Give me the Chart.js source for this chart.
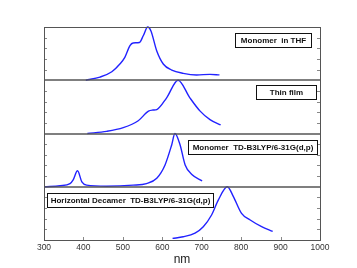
<!DOCTYPE html>
<html>
<head>
<meta charset="utf-8">
<script src="https://cdn.jsdelivr.net/npm/chart.js@4.4.0/dist/chart.umd.min.js"></script>
<style>
  html, body { margin: 0; padding: 0; background: #fff; }
  #wrap { width: 357px; height: 268px; }
</style>
</head>
<body>
<div id="wrap"><canvas id="spectra"></canvas></div>
<script>
// x axis (nm) and the unlabelled y tick marks of each panel
const xTicks = [300, 400, 500, 600, 700, 800, 900, 1000];
const yTicks = [0.2, 0.4, 0.6, 0.8];

const panelLabels = [
    'Monomer  in THF',
    'Thin film',
    'Monomer  TD-B3LYP/6-31G(d,p)',
    'Horizontal Decamer  TD-B3LYP/6-31G(d,p)'
];

// panel 1 - monomer in THF
const thfNm  = [406, 442, 472, 493, 505, 518, 526, 542, 552, 563, 571, 586, 603, 624, 653, 687, 721, 745];
const thfAbs = [0.0, 0.06, 0.16, 0.31, 0.43, 0.65, 0.70, 0.71, 0.84, 1.0, 0.93, 0.55, 0.30, 0.19, 0.13, 0.10, 0.11, 0.10];

// panel 2 - thin film
const filmNm  = [410, 459, 501, 539, 565, 576, 586, 611, 640, 670, 696, 721, 748];
const filmAbs = [0.0, 0.04, 0.11, 0.24, 0.42, 0.44, 0.45, 0.67, 1.0, 0.67, 0.42, 0.26, 0.16];

// panel 3 - monomer TD-B3LYP
const monoNm  = [302, 341, 366, 374, 385, 396, 408, 459, 526, 560, 586, 607, 624, 632, 645, 658, 675, 701];
const monoAbs = [0.0, 0.02, 0.06, 0.13, 0.30, 0.09, 0.03, 0.01, 0.03, 0.06, 0.16, 0.41, 0.79, 1.0, 0.79, 0.41, 0.23, 0.11];

// panel 4 - horizontal decamer TD-B3LYP
const decaNm  = [626, 653, 683, 704, 725, 742, 765, 780, 801, 822, 852, 880];
const decaAbs = [0.03, 0.06, 0.13, 0.25, 0.47, 0.75, 1.0, 0.82, 0.50, 0.38, 0.25, 0.16];

// top to bottom
const panelIds = ['y1', 'y2', 'y3', 'y4'];

function toPoints(xs, ys) {
    return xs.map((x, i) => ({ x: x, y: ys[i] }));
}

function makeSet(xs, ys, axis) {
    return {
        data: toPoints(xs, ys),
        yAxisID: axis,
        borderColor: '#2222ff',
        borderWidth: 1.4,
        pointRadius: 0,
        fill: false,
        cubicInterpolationMode: 'monotone',
        clip: 2
    };
}

function panelAxis() {
    return {
        type: 'linear',
        position: 'left',
        stack: 'spectra',
        stackWeight: 1,
        min: 0,
        max: 1,
        ticks: { display: false },
        grid: { display: false },
        border: { display: false },
        afterFit: (scale) => { scale.width = 0; }
    };
}

function strokeLine(ctx, x1, y1, x2, y2) {
    ctx.beginPath();
    ctx.moveTo(x1, y1);
    ctx.lineTo(x2, y2);
    ctx.stroke();
}

// frame, panel separators, inward ticks and the boxed panel labels
const panelFrame = {
    id: 'panelFrame',
    afterDatasetsDraw(chart) {
        const { ctx, chartArea, scales } = chart;
        const L = chartArea.left, R = chartArea.right, B = chartArea.bottom;
        ctx.save();

        ctx.strokeStyle = '#888';
        ctx.lineWidth = 1;
        panelIds.forEach(id => {
            const s = scales[id];
            yTicks.forEach(v => {
                const py = Math.round(s.getPixelForValue(v)) + 0.5;
                strokeLine(ctx, L, py, L + 3, py);
                strokeLine(ctx, R - 3, py, R, py);
            });
        });
        xTicks.forEach(v => {
            const px = Math.round(scales.x.getPixelForValue(v)) + 0.5;
            strokeLine(ctx, px, B - 3, px, B);
        });

        // separators between panels
        ctx.strokeStyle = '#555';
        ctx.lineWidth = 1.5;
        panelIds.slice(1).forEach(id => {
            const py = Math.round(scales[id].top);
            strokeLine(ctx, L, py, R, py);
        });

        // outer frame
        ctx.lineWidth = 1;
        ctx.strokeRect(Math.round(L) + 0.5, Math.round(chartArea.top) + 0.5,
            Math.round(R - L), Math.round(B - chartArea.top));

        // label boxes: [anchor side, inset, top offset, width]
        const boxes = [
            ['right', 9, 6, 76],
            ['right', 4, 5, 60],
            ['right', 3, 6, 129],
            ['left', 3, 6, 166]
        ];
        ctx.font = 'bold 8px "Liberation Sans", Arial, sans-serif';
        ctx.textAlign = 'center';
        ctx.textBaseline = 'middle';
        panelIds.forEach((id, i) => {
            const s = scales[id];
            const [side, inset, dy, w] = boxes[i];
            const h = 14;
            const bx = side === 'right' ? Math.round(R - inset - w) : Math.round(L + inset);
            const by = Math.round(s.top + dy);
            ctx.fillStyle = '#fff';
            ctx.fillRect(bx, by, w, h);
            ctx.strokeStyle = '#111';
            ctx.lineWidth = 1;
            ctx.strokeRect(bx + 0.5, by + 0.5, w, h);
            ctx.fillStyle = '#111';
            ctx.fillText(panelLabels[i], bx + w / 2 + 0.5, by + h / 2 + 1, w - 4);
        });
        ctx.restore();
    }
};

const ctx = document.getElementById('spectra').getContext('2d');
new Chart(ctx, {
    type: 'line',
    data: {
        datasets: [
            makeSet(thfNm, thfAbs, 'y1'),
            makeSet(filmNm, filmAbs, 'y2'),
            makeSet(monoNm, monoAbs, 'y3'),
            makeSet(decaNm, decaAbs, 'y4')
        ]
    },
    options: {
        responsive: true,
        maintainAspectRatio: false,
        animation: false,
        events: [],
        layout: { padding: { left: 44, right: 37, top: 27, bottom: 0 } },
        plugins: {
            legend: { display: false },
            tooltip: { enabled: false }
        },
        scales: {
            x: {
                type: 'linear',
                min: 300,
                max: 1000,
                afterBuildTicks: (scale) => { scale.ticks = xTicks.map(v => ({ value: v })); },
                ticks: {
                    padding: -5,
                    color: '#333',
                    font: { family: '"Liberation Sans", Arial, sans-serif', size: 8.5 },
                    callback: (v) => String(v)
                },
                grid: { display: false },
                border: { display: false },
                title: {
                    display: true,
                    text: 'nm',
                    color: '#222',
                    padding: { top: 0, bottom: 1 },
                    font: { family: '"Liberation Sans", Arial, sans-serif', size: 12 }
                },
                afterFit: (scale) => { scale.height = 28; }
            },
            // stacked axes are laid out bottom-up, so list the bottom panel first
            y4: panelAxis(),
            y3: panelAxis(),
            y2: panelAxis(),
            y1: panelAxis()
        }
    },
    plugins: [panelFrame]
});
</script>
</body>
</html>
